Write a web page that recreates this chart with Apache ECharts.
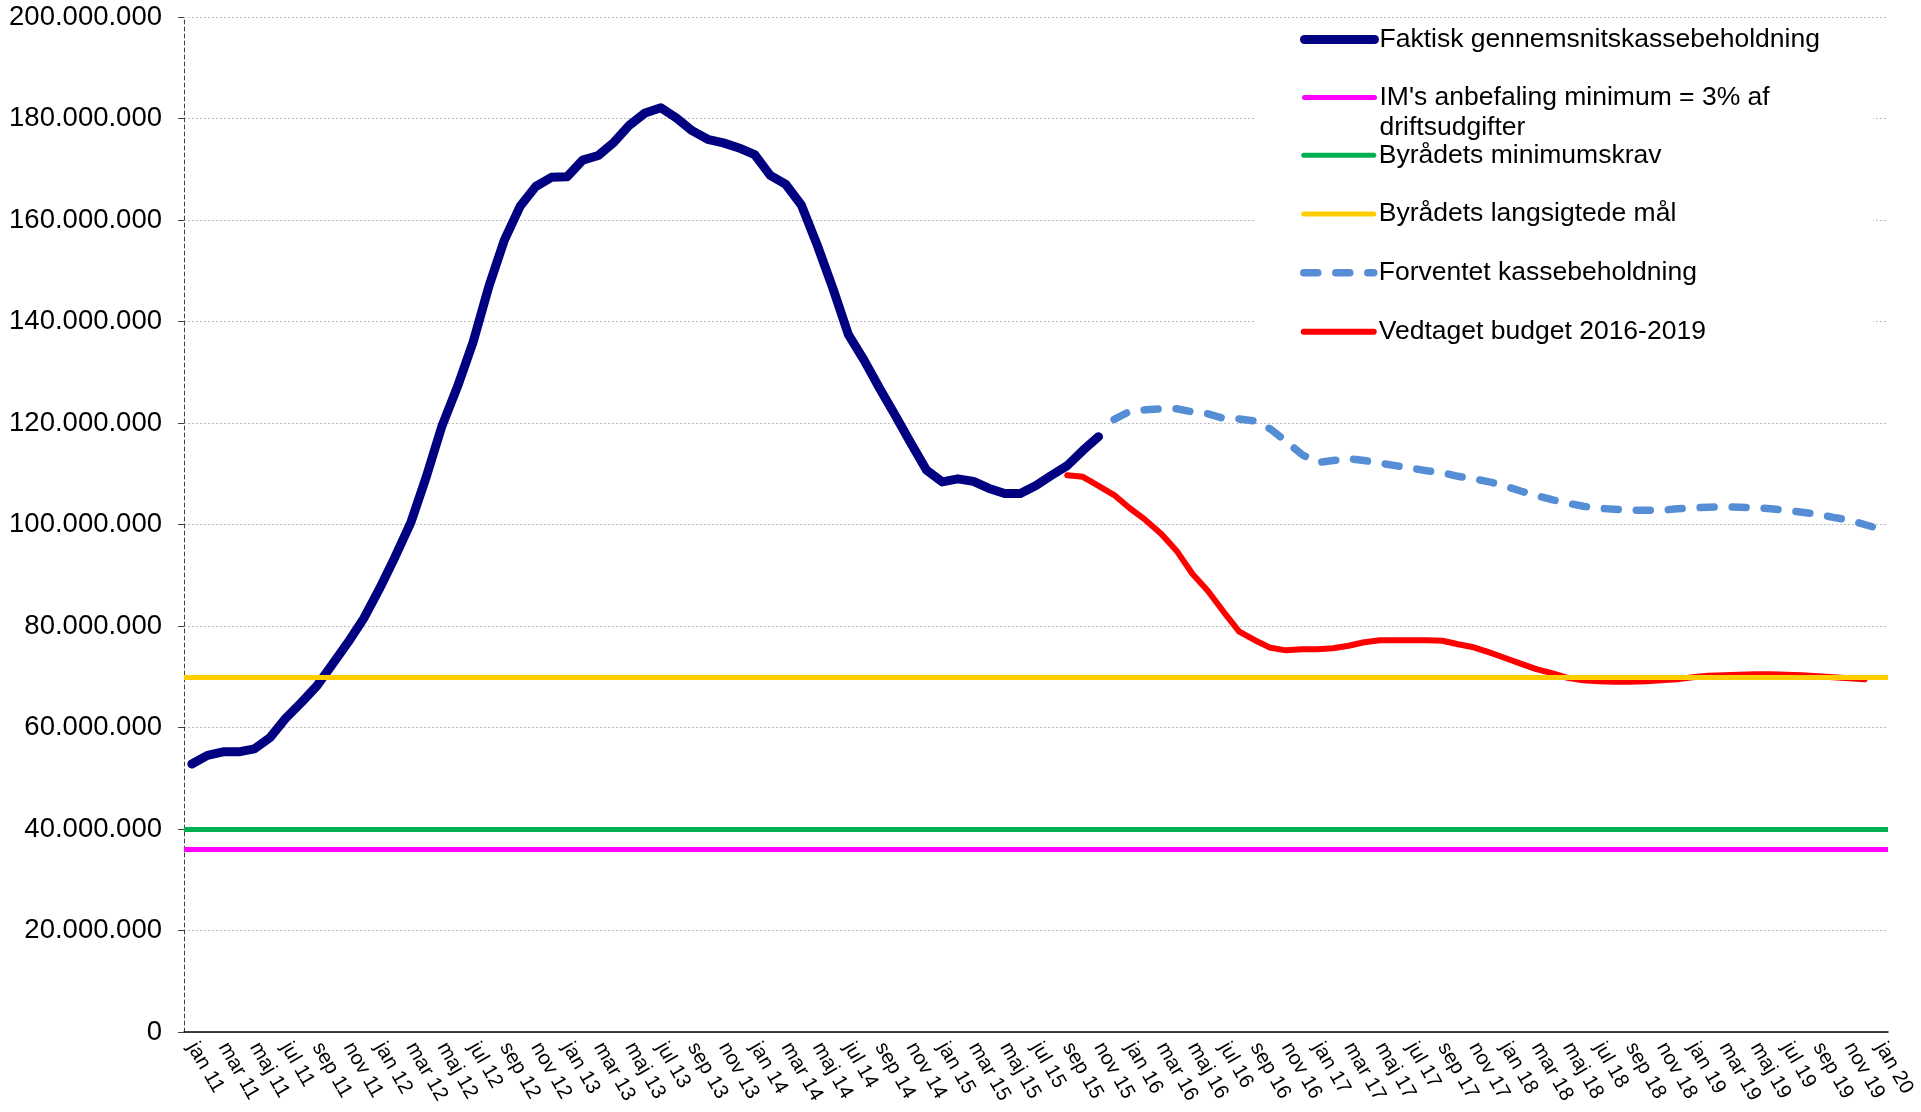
<!DOCTYPE html>
<html>
<head>
<meta charset="utf-8">
<title>Kassebeholdning</title>
<script src="https://cdn.jsdelivr.net/npm/echarts@6/dist/echarts.min.js"></script>
<style>
  html, body { margin: 0; padding: 0; background: #fff; }
  #chart { width: 1921px; height: 1112px; }
</style>
</head>
<body>
<div id="chart"></div>
<script>
const FONT = "'Liberation Sans', Arial, sans-serif";

const MONTHS = ['jan', 'feb', 'mar', 'apr', 'maj', 'jun', 'jul', 'aug', 'sep', 'okt', 'nov', 'dec'];
const categories = [];
for (let y = 11; y <= 19; y++) MONTHS.forEach(m => categories.push(m + ' ' + y));
categories.push('jan 20');

// mio. kr.
// faktisk: jan 11 - nov 15
const faktisk = [
  52.8, 54.5, 55.2, 55.2, 55.8, 58.0, 61.8, 64.9, 68.2, 72.5,
  76.8, 81.5, 87.3, 93.6, 100.3, 109.4, 119.4, 127.2, 136.0, 146.9,
  156.1, 162.7, 166.6, 168.4, 168.5, 171.8, 172.7, 175.3, 178.7, 181.1,
  182.1, 180.1, 177.6, 175.9, 175.2, 174.2, 172.9, 168.8, 167.0, 162.9,
  155.1, 146.6, 137.4, 132.4, 126.8, 121.5, 116.0, 110.7, 108.4, 109.0,
  108.5, 107.1, 106.1, 106.1, 107.7, 109.7, 111.6, 114.6, 117.3
];
// forventet: dec 15 - jan 20
const forventetStart = 59;
const forventet = [
  120.7, 122.3, 122.6, 122.8, 122.8, 122.2, 121.8, 120.9, 120.8, 120.4,
  118.8, 116.4, 113.8, 112.2, 112.6, 113.0, 112.6, 112.1, 111.6, 111.1,
  110.6, 110.2, 109.5, 109.0, 108.4, 107.6, 106.6, 105.7, 104.9, 104.2,
  103.6, 103.2, 103.0, 102.8, 102.8, 102.8, 103.1, 103.3, 103.4, 103.5,
  103.4, 103.3, 103.1, 102.8, 102.4, 102.0, 101.4, 100.9, 100.0, 99.1
];
// vedtaget budget: sep 15 - dec 19
const budgetStart = 56;
const budget = [
  109.7, 109.4, 107.6, 105.8, 103.2, 100.9, 98.2, 94.8, 90.3, 86.9,
  82.8, 78.9, 77.2, 75.7, 75.2, 75.4, 75.4, 75.6, 76.1, 76.8,
  77.2, 77.2, 77.2, 77.2, 77.1, 76.4, 75.8, 74.8, 73.7, 72.6,
  71.5, 70.7, 69.8, 69.3, 69.1, 69.0, 69.0, 69.1, 69.3, 69.5,
  69.9, 70.2, 70.3, 70.4, 70.5, 70.5, 70.4, 70.3, 70.1, 69.9,
  69.7, 69.5
];
const imMinimum = 36;
const byraadMinimum = 40;
const byraadMaal = 70;

const N_FAKTISK = 'Faktisk gennemsnitskassebeholdning';
const N_IM = "IM's anbefaling minimum = 3% af driftsudgifter";
const N_MINKRAV = 'Byrådets minimumskrav';
const N_MAAL = 'Byrådets langsigtede mål';
const N_FORVENTET = 'Forventet kassebeholdning';
const N_BUDGET = 'Vedtaget budget 2016-2019';

const pad = (start, vals) => new Array(start).fill(null).concat(vals);

function levelSeries(name, color, value) {
  return {
    name: name,
    type: 'line',
    data: [],
    symbol: 'none',
    color: color,
    lineStyle: { color: color, width: 5, cap: 'round' },
    markLine: {
      silent: true,
      symbol: 'none',
      label: { show: false },
      emphasis: { disabled: true },
      lineStyle: { color: color, width: 5, type: 'solid' },
      data: [{ yAxis: value }]
    }
  };
}

const legendCommon = {
  orient: 'vertical',
  left: 1300,
  padding: 0,
  itemWidth: 70, itemHeight: 26,
  selectedMode: false,
  itemStyle: { opacity: 0 },
  lineStyle: { width: 'inherit' }
};

// two-line legend entry: first line level with the icon, second hangs below
const imText = {
  padding: [30, 0, 0, 0],
  rich: { a: { fontSize: 26.5, lineHeight: 30, color: '#000', fontFamily: FONT } }
};

const chart = echarts.init(document.getElementById('chart'));
chart.setOption({
  animation: false,
  textStyle: { fontFamily: FONT },
  grid: { left: 184, right: 33, top: 17, bottom: 80, outerBoundsMode: 'none' },
  graphic: [{
    type: 'rect', z: 1, silent: true,
    shape: { x: 1255, y: 18, width: 618, height: 342 },
    style: { fill: '#fff' }
  }],
  legend: [Object.assign({}, legendCommon, {
    data: [N_FAKTISK, { name: N_IM, textStyle: imText }],
    top: 26,
    itemGap: 31,
    formatter: name => name === N_IM ? "{a|IM's anbefaling minimum = 3% af}\n{a|driftsudgifter}" : name,
    textStyle: { fontSize: 26.5, color: '#000', fontFamily: FONT }
  }), Object.assign({}, legendCommon, {
    data: [N_MINKRAV, N_MAAL, N_FORVENTET, N_BUDGET],
    top: 141.75,
    itemGap: 31.8,
    textStyle: { fontSize: 26.5, color: '#000', fontFamily: FONT }
  })],
  xAxis: {
    type: 'category',
    data: categories,
    boundaryGap: true,
    axisLine: { lineStyle: { color: '#000', width: 1.5 } },
    axisTick: { interval: 1, length: 6, lineStyle: { color: '#8c8c8c', width: 1.5 } },
    axisLabel: { interval: 1, rotate: -60, fontSize: 20.5, color: '#000', margin: 12, fontFamily: FONT },
    splitLine: { show: false }
  },
  yAxis: {
    type: 'value',
    min: 0, max: 200, interval: 20,
    axisLine: { show: true, lineStyle: { color: '#404040', type: [4, 3], width: 1 } },
    axisTick: { show: true, length: 6, lineStyle: { color: '#404040' } },
    axisLabel: {
      fontSize: 27.5, color: '#000', margin: 22, fontFamily: FONT,
      formatter: v => v === 0 ? '0' : v + '.000.000'
    },
    splitLine: { lineStyle: { color: '#bdbdbd', type: [2, 2], width: 1 } }
  },
  series: [
    {
      name: N_FAKTISK, type: 'line', data: faktisk, symbol: 'none', color: '#000080',
      lineStyle: { color: '#000080', width: 9, cap: 'round', join: 'round' }
    },
    levelSeries(N_IM, '#ff00ff', imMinimum),
    levelSeries(N_MINKRAV, '#00b050', byraadMinimum),
    levelSeries(N_MAAL, '#ffcc00', byraadMaal),
    {
      name: N_FORVENTET, type: 'line', data: pad(forventetStart, forventet), symbol: 'none', color: '#558ed5',
      lineStyle: { color: '#558ed5', width: 7.5, type: [14, 18], cap: 'round', join: 'round' }
    },
    {
      name: N_BUDGET, type: 'line', data: pad(budgetStart, budget), symbol: 'none', color: '#ff0000',
      lineStyle: { color: '#ff0000', width: 6, cap: 'round', join: 'round' }
    }
  ]
});
</script>
</body>
</html>
